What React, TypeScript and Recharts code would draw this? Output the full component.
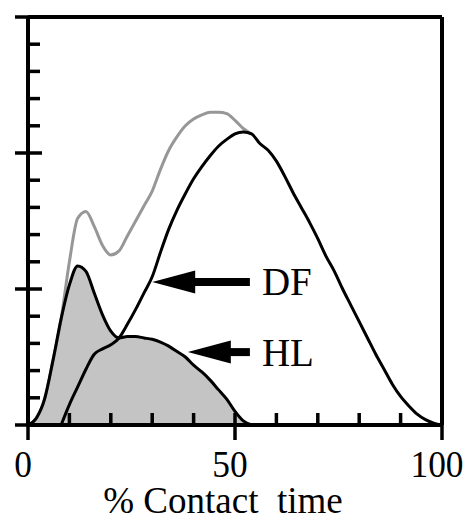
import React from 'react';
import { ComposedChart, Area, Line, XAxis, YAxis, ReferenceLine } from 'recharts';

// % contact time (x) and the three force curves
const pct = [0, 2, 4, 6, 8, 10, 12, 14, 16, 18, 20, 22, 24, 26, 28, 30, 32, 34, 36, 38, 40, 42, 44, 46, 48, 50,
  52, 54, 56, 58, 60, 62, 64, 66, 68, 70, 72, 74, 76, 78, 80, 82, 84, 86, 88, 90, 92, 94, 96, 98, 100];

const hl = [0, 0.25, 0.95, 2.35, 3.9, 5.15, 5.85, 5.65, 4.85, 4.05, 3.45, 3.2, 3.25, 3.25, 3.2, 3.15, 3.05, 2.9,
  2.7, 2.5, 2.2, 1.95, 1.65, 1.3, 0.95, 0.5, 0.15, 0];

const df = [null, null, null, null, 0, 0.75, 1.4, 2.05, 2.6, 2.8, 2.95, 3.2, 3.7, 4.25, 4.85, 5.45, 6.35, 7.2,
  7.9, 8.5, 9.05, 9.5, 9.9, 10.25, 10.5, 10.7, 10.77, 10.7, 10.35, 10.1, 9.7, 9.15, 8.55, 8.0, 7.45, 6.85, 6.2,
  5.65, 5.0, 4.4, 3.8, 3.2, 2.6, 2.05, 1.5, 1.05, 0.7, 0.4, 0.2, 0.07, 0];

const total = [0, 0.25, 0.95, 2.35, 3.9, 6.0, 7.6, 7.85, 7.3, 6.6, 6.25, 6.4, 6.95, 7.5, 8.05, 8.6, 9.4, 10.1,
  10.6, 11.0, 11.25, 11.4, 11.5, 11.5, 11.45, 11.2, 10.9, 10.7];

const xTicks = [0, 10, 20, 30, 40, 50, 60, 70, 80, 90, 100];
const xMajor = [0, 50, 100];
const yTicks = [0, 1, 2, 3, 4, 5, 6, 7, 8, 9, 10, 11, 12, 13, 14, 15];
const yMajor = [0, 5, 10, 15];

// arrow annotations (data units)
const arrowLabels = ['DF', 'HL'];
const arrowTipX = [30, 38.6];
const arrowTailX = [53.6, 53.6];
const arrowY = [5.26, 2.68];

const data = pct.map((p, i) => ({
  pct: p,
  hl: i < hl.length ? hl[i] : null,
  df: df[i],
  total: i < total.length ? total[i] : null,
}));

const serif = { fontFamily: "'Liberation Serif', Tinos, 'Times New Roman', Times, 'DejaVu Serif', serif" };

const XTick = (props: any) => {
  const { x, y, payload } = props;
  const major = xMajor.includes(payload.value);
  const label = String(payload.value);
  return (
    <g>
      <line x1={x} x2={x} y1={y - 12} y2={major ? y + 15 : y} stroke="#000" strokeWidth={3.5} />
      {major && (
        <text x={x - 5} y={y + 52} textAnchor="middle" style={serif} fontSize={38} fill="#000"
          textLength={label.length * 17.7} lengthAdjust="spacingAndGlyphs">
          {label}
        </text>
      )}
    </g>
  );
};

const YTick = (props: any) => {
  const { x, y, payload } = props;
  const major = yMajor.includes(payload.value);
  return (
    <g>
      <line x1={major ? x - 13 : x} x2={major ? x + 14 : x + 12} y1={y} y2={y} stroke="#000" strokeWidth={3.5} />
    </g>
  );
};

const Arrow = (label: string) => (props: any) => {
  const { x1, y1, x2 } = props;
  const tip = Math.min(x1, x2);
  const tail = Math.max(x1, x2);
  return (
    <g>
      <line x1={tip + 38} x2={tail} y1={y1} y2={y1} stroke="#000" strokeWidth={8} />
      <polygon points={`${tip},${y1} ${tip + 43},${y1 - 11.5} ${tip + 43},${y1 + 11.5}`} fill="#000" />
      <text x={tail + 12} y={y1 + 13.5} style={serif} fontSize={39} fill="#000">{label}</text>
    </g>
  );
};

const AxisTitle = (props: any) => {
  const { viewBox } = props;
  return (
    <text x={viewBox.x + viewBox.width / 2 - 12} y={viewBox.y + 88} textAnchor="middle"
      style={{ ...serif, whiteSpace: 'pre' }} fontSize={37} fill="#000">
      {'% Contact  time'}
    </text>
  );
};

export default function App() {
  return (
    <div style={{ position: 'absolute', left: 0, top: 0, width: 469, height: 520, background: '#fff' }}>
      <ComposedChart width={469} height={520} data={data} margin={{ top: 17, right: 27, left: 27, bottom: 35 }}>
        <XAxis
          dataKey="pct"
          type="number"
          domain={[0, 100]}
          ticks={xTicks}
          interval={0}
          height={60}
          tickSize={0}
          tickMargin={0}
          tickLine={false}
          axisLine={{ stroke: '#000', strokeWidth: 4 }}
          tick={XTick}
          label={AxisTitle}
        />
        <YAxis
          type="number"
          domain={[0, 15]}
          ticks={yTicks}
          interval={0}
          width={1}
          tickSize={0}
          tickMargin={0}
          tickLine={false}
          axisLine={{ stroke: '#000', strokeWidth: 4 }}
          tick={YTick}
        />
        <Area type="monotone" dataKey="hl" stroke="none" fill="#c4c4c4" fillOpacity={1} isAnimationActive={false} />
        <Line type="monotone" dataKey="total" stroke="#979797" strokeWidth={3} dot={false} isAnimationActive={false} />
        <Line type="monotone" dataKey="df" stroke="#000" strokeWidth={3} dot={false} isAnimationActive={false} />
        <Line type="monotone" dataKey="hl" stroke="#000" strokeWidth={3} dot={false} isAnimationActive={false} />
        <ReferenceLine y={15} stroke="#000" strokeWidth={4} />
        <ReferenceLine x={100} stroke="#000" strokeWidth={4} />
        {arrowLabels.map((lab, i) => (
          <ReferenceLine
            key={lab}
            segment={[{ x: arrowTipX[i], y: arrowY[i] }, { x: arrowTailX[i], y: arrowY[i] }]}
            shape={Arrow(lab)}
          />
        ))}
      </ComposedChart>
    </div>
  );
}
